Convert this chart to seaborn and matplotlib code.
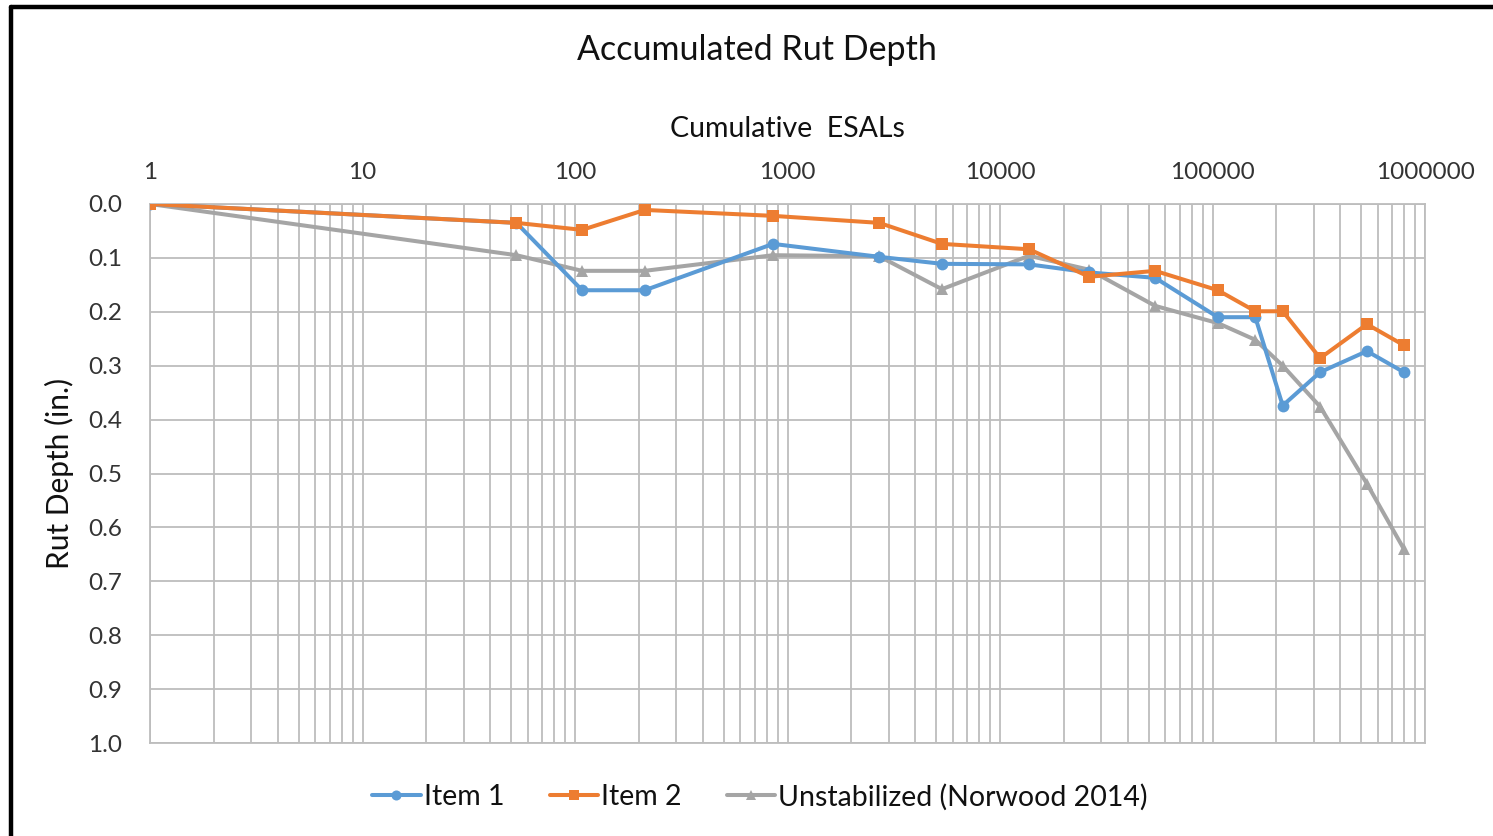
import numpy as np
import pandas as pd
import seaborn as sns
import matplotlib.pyplot as plt
import matplotlib.ticker as ticker
from matplotlib.lines import Line2D

# Cumulative ESALs at each survey, and rut depth (in.) for each section
esals = [1, 53, 108, 213, 855, 2700, 5330, 13700, 26300, 53700,
         106000, 159000, 214000, 321000, 533000, 795000]
item1 = [0.0, 0.035, 0.160, 0.160, 0.074, 0.098, 0.111, 0.112, 0.127, 0.137,
         0.210, 0.210, 0.374, 0.312, 0.273, 0.312]
item2 = [0.0, 0.035, 0.048, 0.011, 0.022, 0.035, 0.074, 0.084, 0.135, 0.124,
         0.160, 0.199, 0.199, 0.286, 0.223, 0.262]
unstab = [0.0, 0.095, 0.124, 0.124, 0.095, 0.097, 0.158, 0.096, 0.122, 0.189,
          0.221, 0.252, 0.300, 0.376, 0.519, 0.640]

series = ["Item 1", "Item 2", "Unstabilized (Norwood 2014)"]
x_ticks = [1, 10, 100, 1000, 10000, 100000, 1000000]
y_ticks = [0.0, 0.1, 0.2, 0.3, 0.4, 0.5, 0.6, 0.7, 0.8, 0.9, 1.0]

df = pd.concat([
    pd.DataFrame({"ESALs": esals, "Rut": item1, "Series": series[0]}),
    pd.DataFrame({"ESALs": esals, "Rut": item2, "Series": series[1]}),
    pd.DataFrame({"ESALs": esals, "Rut": unstab, "Series": series[2]}),
], ignore_index=True)

sns.set_style("white")
plt.rcParams["font.family"] = ["Lato", "DejaVu Sans"]

colors = {series[0]: "#5B9BD5", series[1]: "#ED7D31", series[2]: "#A5A5A5"}
markers = {series[0]: "o", series[1]: "s", series[2]: "^"}
grid_col = "#BDBDBD"

fig = plt.figure(figsize=(14.93, 8.36), dpi=100)
ax = fig.add_axes([150 / 1493, 1 - 743 / 836, 1275 / 1493, 539 / 836])

# draw gray first, then blue, then orange on top
for name, z in [(series[2], 2), (series[0], 3), (series[1], 4)]:
    sub = df[df["Series"] == name]
    sns.lineplot(data=sub, x="ESALs", y="Rut", ax=ax, color=colors[name],
                 marker=markers[name], markersize=8.5, markeredgewidth=0,
                 linewidth=2.9, label=name, zorder=z, legend=False)

ax.set_xscale("log")
ax.set_xlim(1, 1000000)
ax.set_ylim(1.0, 0.0)
ax.xaxis.set_ticks_position("top")
ax.xaxis.set_label_position("top")
ax.set_xticks(x_ticks)
ax.xaxis.set_major_formatter(ticker.FuncFormatter(lambda v, p: f"{int(round(v))}"))
ax.xaxis.set_minor_locator(ticker.LogLocator(base=10, subs=np.arange(2, 10)))
ax.xaxis.set_minor_formatter(ticker.NullFormatter())
ax.set_yticks(y_ticks)
ax.yaxis.set_major_formatter(ticker.FormatStrFormatter("%.1f"))
ax.tick_params(axis="both", which="both", length=0, labelsize=17.5, colors="#333333")
ax.tick_params(axis="x", pad=15)
ax.tick_params(axis="y", pad=20)

ax.grid(True, which="both", axis="x", color=grid_col, linewidth=1.3)
ax.grid(True, which="major", axis="y", color=grid_col, linewidth=1.3)
for s in ax.spines.values():
    s.set_color(grid_col)
    s.set_linewidth(1.3)

ax.set_xlabel("Cumulative  ESALs", fontsize=20.5, labelpad=18, color="#111111")
ax.set_ylabel("Rut Depth (in.)", fontsize=21.5, labelpad=10, color="#111111")
fig.text(757 / 1493, 1 - 50 / 836, "Accumulated Rut Depth", fontsize=24.5,
         ha="center", va="center", color="#111111")

handles, labels = ax.get_legend_handles_labels()
order = [labels.index(n) for n in series]
fig.legend([handles[i] for i in order], [labels[i] for i in order],
           loc="center", bbox_to_anchor=(760 / 1493, 1 - 797 / 836), ncol=3,
           frameon=False, fontsize=20.5, handlelength=1.7, handletextpad=0.1,
           columnspacing=1.6, markerscale=0.85, labelcolor="#111111")

# black frame on top and left edges, as in the original screenshot
fig.add_artist(Line2D([11 / 1493, 1], [1 - 7 / 836] * 2, transform=fig.transFigure,
                      color="black", linewidth=3.2))
fig.add_artist(Line2D([11 / 1493] * 2, [0, 1 - 7 / 836], transform=fig.transFigure,
                      color="black", linewidth=3.2))

fig.savefig("out.png", dpi=100)
